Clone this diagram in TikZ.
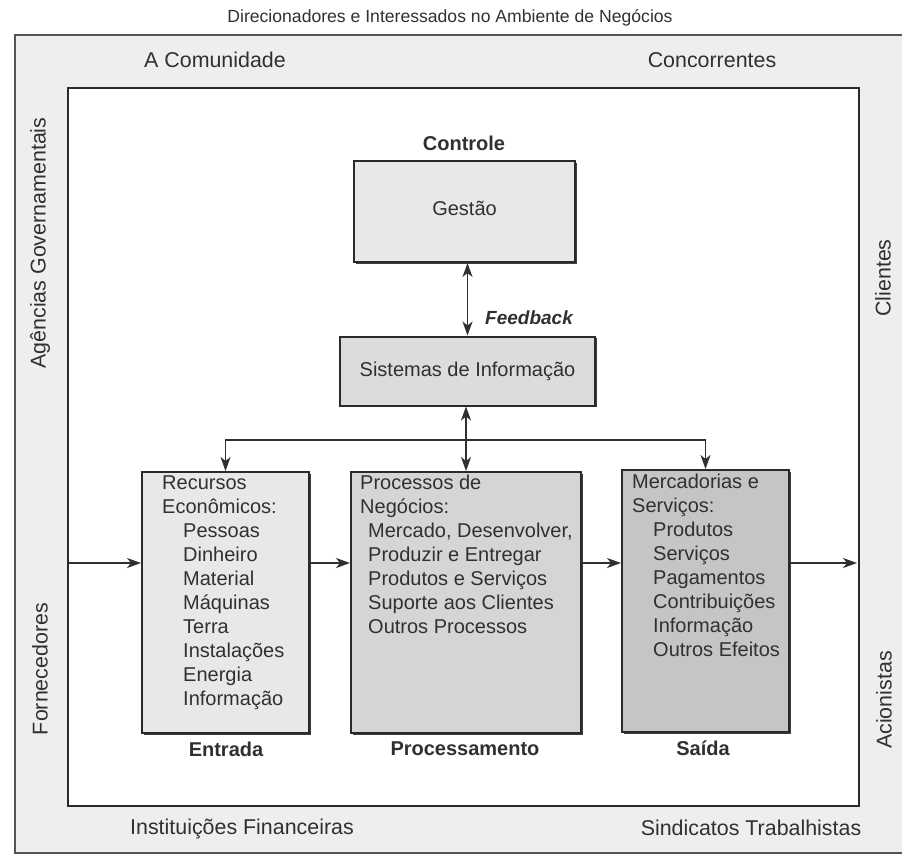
\documentclass[tikz,border=0pt]{standalone}
\usepackage{fontspec}
\setmainfont{Liberation Sans}
\usetikzlibrary{arrows.meta,shadows}
\definecolor{band}{HTML}{EEEEEE}
\definecolor{edge}{HTML}{2A2A2A}
\definecolor{ink}{HTML}{303030}
\definecolor{fillA}{HTML}{E8E8E8}
\definecolor{fillP}{HTML}{D5D5D5}
\definecolor{fillS}{HTML}{C5C5C5}
\tikzset{
  bodyfont/.style={font=\fontsize{20}{24}\selectfont},
  bandlabel/.style={font=\fontsize{21.4}{26}\selectfont, text=ink, inner sep=0pt},
  boldlabel/.style={font=\fontsize{20}{24}\selectfont\bfseries, text=ink, inner sep=0pt},
  procbox/.style={draw=edge, line width=2pt, inner sep=0pt,
    drop shadow={shadow xshift=1.5pt, shadow yshift=-1.5pt, fill=edge, opacity=0.9}},
  boxtext/.style={bodyfont, text=ink, inner sep=0pt, align=left, anchor=base west},
  tip/.style={},
  arr/.style={draw=ink, line width=1.3pt, -{Stealth[length=14pt,width=10pt,inset=4pt]}},
  dbl/.style={draw=ink, line width=1.3pt, {Stealth[length=14pt,width=10pt,inset=4pt]}-{Stealth[length=14pt,width=10pt,inset=4pt]}}
}
\begin{document}
\begin{tikzpicture}[x=1pt,y=-1pt]
\useasboundingbox (0,0) rectangle (902,855);
% outer band and inner area
\fill[band] (15,35) rectangle (910,853);
\draw[edge!80, line width=1.5pt] (910,35) -- (15,35) -- (15,853) -- (910,853);
\fill[white] (68,88) rectangle (859,806);
\draw[edge, line width=2pt] (68,88) rectangle (859,806);

% title
\node[font=\fontsize{17.6}{21}\selectfont, text=ink, inner sep=0pt] (title) at (450,18) {Direcionadores e Interessados no Ambiente de Negócios};

% band labels
\node[bandlabel] (comun) at (215,60) {A Comunidade};
\node[bandlabel] (conc) at (712,60) {Concorrentes};
\node[bandlabel] (inst) at (242,829) {Instituições Financeiras};
\node[bandlabel] (sind) at (751,828) {Sindicatos Trabalhistas};
\node[bandlabel, rotate=90] (agen) at (40,243) {Agências Governamentais};
\node[bandlabel, rotate=90] (forn) at (40,669) {Fornecedores};
\node[bandlabel, rotate=90] (clie) at (883,278) {Clientes};
\node[bandlabel, rotate=90] (acio) at (884,700) {Acionistas};

% control
\node[boldlabel] (ctrl) at (464,143) {Controle};
\node[procbox, fill=fillA, minimum width=221pt, minimum height=101pt] (gest) at (464.5,211.5) {};
\node[bodyfont, text=ink, inner sep=0pt] (gestt) at (gest.center) [yshift=3.5pt] {Gestão};

\node[procbox, fill=fillA!95!black, minimum width=255pt, minimum height=69pt] (si) at (467.5,371) {};
\node[bodyfont, text=ink, inner sep=0pt] (sit) at (si.center) {Sistemas de Informação};

\draw[dbl] (si.north) -- (si.north |- gest.south);
\node[font=\fontsize{19}{23}\selectfont\bfseries\itshape, text=ink, inner sep=0pt, anchor=west] (fb) at (485,318) {Feedback};

% three boxes
\node[procbox, fill=fillA, minimum width=167pt, minimum height=261pt] (ent) at (225.5,602.5) {};
\node[procbox, fill=fillP, minimum width=230pt, minimum height=261pt] (proc) at (466,602.5) {};
\node[procbox, fill=fillS, minimum width=167pt, minimum height=262pt] (sai) at (705.5,601) {};

% text blocks (anchored on the baseline of their last line)
\node[boxtext] (entt) at (162,705) {Recursos\\Econômicos:\\
\hspace*{21pt}Pessoas\\\hspace*{21pt}Dinheiro\\\hspace*{21pt}Material\\\hspace*{21pt}Máquinas\\
\hspace*{21pt}Terra\\\hspace*{21pt}Instalações\\\hspace*{21pt}Energia\\\hspace*{21pt}Informação};
\node[boxtext] (proct) at (360,633) {Processos de\\Negócios:\\
\hspace*{8pt}Mercado, Desenvolver,\\\hspace*{8pt}Produzir e Entregar\\\hspace*{8pt}Produtos e Serviços\\
\hspace*{8pt}Suporte aos Clientes\\\hspace*{8pt}Outros Processos};
\node[boxtext] (sait) at (632,656) {Mercadorias e\\Serviços:\\
\hspace*{21pt}Produtos\\\hspace*{21pt}Serviços\\\hspace*{21pt}Pagamentos\\\hspace*{21pt}Contribuições\\
\hspace*{21pt}Informação\\\hspace*{21pt}Outros Efeitos};

\node[boldlabel] (entl) at (226,749) {Entrada};
\node[boldlabel] (procl) at (465,749) {Processamento};
\node[boldlabel] (sail) at (703,748) {Saída};

% connectors
\draw[dbl] (si.south -| proc.north) -- (proc.north);
\coordinate (bus) at (466,440);
\draw[arr] (bus) -| (ent.north);
\draw[arr] (bus) -| (sai.north);

\coordinate (inL) at (69,563);
\coordinate (inR) at (857,563);
\draw[arr] (inL) -- (ent.west |- inL);
\draw[arr] (ent.east |- inL) -- (proc.west |- inL);
\draw[arr] (proc.east |- inL) -- (sai.west |- inL);
\draw[arr] (sai.east |- inL) -- (inR);
\end{tikzpicture}
\end{document}
